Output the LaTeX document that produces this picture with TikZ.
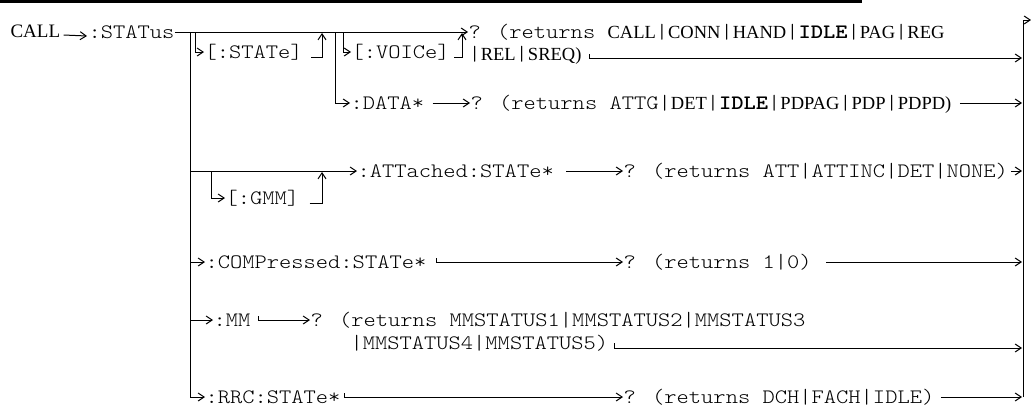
\documentclass[tikz,border=0pt]{standalone}
\usepackage{fontspec}
\setmainfont{Liberation Serif}
\newfontfamily\cour{lmmonolt10}[Extension=.otf, UprightFont=*-regular, BoldFont=*-bold, FakeStretch=1.14]
\newfontfamily\tmsf{Liberation Serif}
\usetikzlibrary{arrows.meta}
\newcommand{\Tm}[1]{{\tmsf\fontsize{18.5}{22}\selectfont #1}}
\tikzset{
  txt/.style={inner sep=0pt, anchor=west, text height=12pt, text depth=0pt,
              font=\cour\fontsize{20.5}{22}\selectfont},
  arr/.style={-{Straight Barb[length=6pt,width=8pt]}},
}
\begin{document}
\begin{tikzpicture}[x=1pt,y=-1pt,line width=1pt]
\useasboundingbox (0,0) rectangle (1031,407);
\draw[line width=3pt] (0,1.5) -- (862,1.5);

% main line
\node[txt, font=\tmsf\fontsize{19}{22}\selectfont] (call) at (10,31) {CALL};
\node[txt] (stat) at (88,32) {:STATus};
\draw[arr] ([shift={(3pt,-4pt)}]call.east) -- ([shift={(-1pt,-4pt)}]stat.west);
\node[txt] (q1) at (468,32) {? (returns \Tm{CALL}|\Tm{CONN}|\Tm{HAND}|\textbf{IDLE}|\Tm{PAG}|\Tm{REG}};
\node[txt] (q1b) at (468,54) {|\Tm{REL}|\Tm{SREQ)}};
\draw[arr] (stat.east) -- (q1.west);

\coordinate (jA1) at (190,32);
\coordinate (jA2) at (195,32);
\coordinate (jA3) at (322,32);
\coordinate (jA4) at (335,32);
\coordinate (jA5) at (343,32);
\coordinate (jA6) at (462,32);

% right rail
\coordinate (rt) at (1023,20);
\coordinate (rb) at (1023,397);
\coordinate (exit) at (1031,20);
\draw (rb) -- (rt);
\draw[arr] (rt) -- (exit);

% [:STATe]
\node[txt] (st) at (204,52) {[:STATe]};
\draw[arr] (jA2) |- (st.west);
\draw[arr] ([shift={(8pt,-5pt)}]st.east) -| ([yshift=-1pt]jA3);

% [:VOICe]
\node[txt] (vo) at (351,52) {[:VOICe]};
\draw[arr] (jA5) |- (vo.west);
\draw[arr] ([shift={(4pt,-5pt)}]vo.east) -| ([yshift=-1pt]jA6);
\draw[arr] ([xshift=8pt]q1b.east) |- ([shift={(-1pt,-4pt)}]q1b.east -| rt);

% :DATA*
\node[txt] (da) at (350,103) {:DATA*};
\draw[arr] (jA4) |- (da.west);
\node[txt] (q2) at (470,103) {? (returns ATTG|\Tm{DET}|\textbf{IDLE}|\Tm{PDPAG}|\Tm{PDP}|\Tm{PDPD)}};
\draw[arr] ([xshift=8pt]da.east) -- (q2.west);
\draw[arr] ([xshift=8pt]q2.east) -- ([xshift=-1pt]q2.east -| rt);

% GMM
\coordinate (tG) at (190,171);
\coordinate (gB) at (211,171);
\coordinate (gR) at (322,171);
\node[txt] (gm) at (225,198) {[:GMM]};
\draw[arr] (gB) |- (gm.west);
\draw[arr] ([shift={(10pt,-5pt)}]gm.east) -| ([yshift=-1pt]gR);
\node[txt] (at) at (357,171) {:ATTached:STATe*};
\draw[arr] (tG) -- (at.west);
\node[txt] (q3) at (623,171) {? (returns ATT|ATTINC|DET|NONE)};
\draw[arr] ([xshift=12pt]at.east) -- (q3.west);
\draw[arr] ([xshift=3pt]q3.east) -- ([xshift=-1pt]q3.east -| rt);

% COMPressed
\coordinate (tC) at (190,262);
\node[txt] (co) at (205,262) {:COMPressed:STATe*};
\draw[arr] (tC) -- (co.west);
\node[txt] (q4) at (623,262) {? (returns 1|0)};
\draw[arr] ([shift={(10pt,4pt)}]co.east) |- (q4.west);
\draw[arr] ([xshift=14pt]q4.east) -- ([xshift=-1pt]q4.east -| rt);

% MM
\coordinate (tM) at (190,320);
\node[txt] (mm) at (213,320) {:MM};
\draw[arr] (tM) -- (mm.west);
\node[txt] (q5) at (310,320) {? (returns MMSTATUS1|MMSTATUS2|MMSTATUS3};
\draw[arr] ([shift={(8pt,4pt)}]mm.east) |- (q5.west);
\node[txt] (q5b) at (350,343) {|MMSTATUS4|MMSTATUS5)};
\draw[arr] ([xshift=6pt]q5b.east) |- ([shift={(-1pt,-5pt)}]q5b.east -| rt);

% RRC
\coordinate (tR) at (190,397);
\node[txt] (rr) at (205,397) {:RRC:STATe*};
\draw[arr] (tR) -- (rr.west);
\node[txt] (q6) at (623,397) {? (returns DCH|FACH|IDLE)};
\draw[arr] ([shift={(4pt,4pt)}]rr.east) |- (q6.west);
\draw[arr] ([xshift=6pt]q6.east) -- ([xshift=-1pt]q6.east -| rt);

% trunk
\draw (jA1) -- (tR);
\end{tikzpicture}
\end{document}
